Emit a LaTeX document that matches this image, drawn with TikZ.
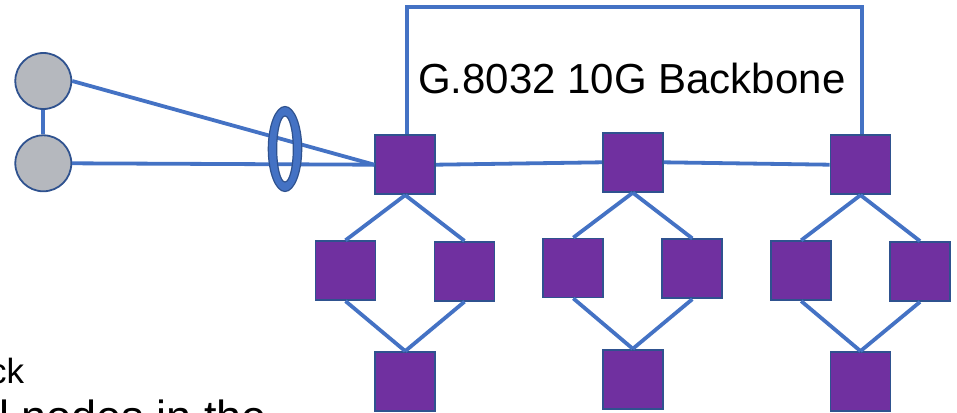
\documentclass[tikz,border=0pt]{standalone}
\usepackage{fontspec}
\setmainfont{Liberation Sans}
\usetikzlibrary{calc}
\definecolor{linkblue}{RGB}{68,114,196}
\definecolor{edgeblue}{RGB}{47,82,143}
\definecolor{nodepurple}{RGB}{112,48,160}
\definecolor{hostgray}{RGB}{181,184,190}
\tikzset{
  switch/.style={rectangle, draw=edgeblue, line width=1.8pt, fill=nodepurple,
                 minimum width=60pt, minimum height=59pt, inner sep=0pt},
  host/.style={circle, draw=edgeblue, line width=1.8pt, fill=hostgray,
               minimum size=56pt, inner sep=0pt},
  link/.style={draw=linkblue, line width=3.8pt},
}
\begin{document}
\begin{tikzpicture}[x=1pt, y=-1pt]
\useasboundingbox (0,0) rectangle (957,412);
\clip (0,0) rectangle (957,412);

% hosts
\node[host] (h1) at (43.3,81) {};
\node[host] (h2) at (43.3,163.3) {};

% backbone switches
\node[switch] (A1) at (405.2,164.7) {};
\node[switch] (B1) at (632.8,162.3) {};
\node[switch] (C1) at (860.5,164.7) {};
% access rings
\node[switch] (A2) at (345.5,270.7) {};
\node[switch] (A3) at (464.5,271.3) {};
\node[switch] (A4) at (405.2,381.5) {};
\node[switch] (B2) at (573.3,268) {};
\node[switch] (B3) at (692.3,268.8) {};
\node[switch] (B4) at (632.8,379.2) {};
\node[switch] (C2) at (801.2,270.7) {};
\node[switch] (C3) at (920,271.5) {};
\node[switch] (C4) at (860.5,381.5) {};

% host links
\draw[link] (h1.south) -- (h2.north);
\draw[link] (h1.east) -- (A1.west);
\draw[link] (h2.east) -- (A1.west);

% link aggregation ring
\coordinate (lag) at (285,149);
\path[fill=linkblue, draw=edgeblue, line width=1.2pt, even odd rule]
  (lag) ellipse [x radius=16.7, y radius=42.5]
  (lag) ellipse [x radius=8.3, y radius=33];

% backbone links
\draw[link] (A1.east) -- (B1.west);
\draw[link] (B1.east) -- (C1.west);
\coordinate (tl) at ($(A1.north)+(1.5,0)$);
\coordinate (tr) at ($(C1.north)+(1.2,0)$);
\draw[link] (tl) -- (tl |- 0,6.7) -- (tr |- 0,6.7) -- (tr);

% ring links
\foreach \g in {A,B,C}{
  \draw[link] (\g1.south) -- (\g2.north);
  \draw[link] (\g1.south) -- (\g3.north);
  \draw[link] (\g2.south) -- (\g4.north);
  \draw[link] (\g3.south) -- (\g4.north);
}

% labels
\node[anchor=base, inner sep=0pt, font=\fontsize{42}{50}\selectfont] (title) at (631.8,93.3) {G.8032 10G Backbone};
\node[anchor=base west, inner sep=0pt, font=\fontsize{35}{42}\selectfont] (t1) at (-11,383.3) {ck};
\node[anchor=base west, inner sep=0pt, font=\fontsize{45}{54}\selectfont] (t2) at (-1,432) {l nodes in the};
\end{tikzpicture}
\end{document}
